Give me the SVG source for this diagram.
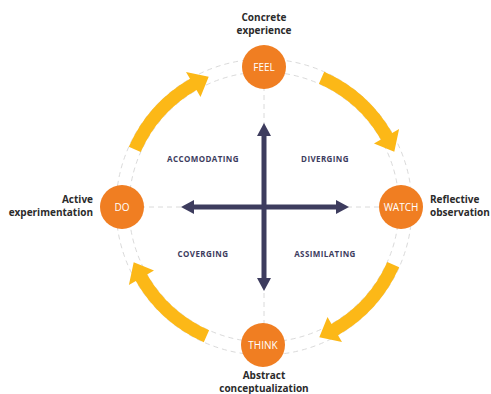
<svg xmlns="http://www.w3.org/2000/svg" width="491" height="394" viewBox="0 0 491 394">
<style>
.dash{fill:none;stroke:#dadada;stroke-width:1;stroke-dasharray:5 4}
.band{fill:#fcb817}
.node{fill:#f07e22}
.nt{font-family:"Open Sans","Noto Sans",sans-serif;font-size:10px;fill:#fff;text-anchor:middle}
.title{font-family:"Open Sans","Noto Sans",sans-serif;font-size:10px;font-weight:bold;fill:#2b2b2b}
.q{font-family:"Open Sans","Noto Sans",sans-serif;font-size:8px;font-weight:bold;fill:#3d3c5e;text-anchor:middle;letter-spacing:0.4px}
.ax{stroke:#3d3c5e;stroke-width:5;fill:none}
</style>
<defs>
<marker id="ah" markerUnits="userSpaceOnUse" markerWidth="13" markerHeight="14" refX="0" refY="7" orient="auto-start-reverse" viewBox="0 0 13 14">
<path d="M0,0 L13,7 L0,14 Z" fill="#3d3c5e"/>
</marker>
<path id="arc" d="M128.8,146.8 A148,148 0 0 1 190,78.8 L186,71.9 L208.7,76.7 L200.5,97 L196.5,90.1 A135,135 0 0 0 140.7,152.1 Z"/>
</defs>
<rect width="491" height="394" fill="#fff"/>
<g id="guides">
<circle class="dash" cx="264" cy="207" r="135"/>
<circle class="dash" cx="264" cy="207" r="148"/>
<line class="dash" x1="122" y1="207" x2="401" y2="207"/>
<line class="dash" x1="264" y1="68" x2="264" y2="345"/>
</g>
<g id="connectors">
<use href="#arc" class="band"/>
<use href="#arc" class="band" transform="rotate(90 264 207)"/>
<use href="#arc" class="band" transform="rotate(180 264 207)"/>
<use href="#arc" class="band" transform="rotate(270 264 207)"/>
<line class="ax" x1="264" y1="136" x2="264" y2="278" marker-start="url(#ah)" marker-end="url(#ah)"/>
<line class="ax" x1="194" y1="207" x2="336" y2="207" marker-start="url(#ah)" marker-end="url(#ah)"/>
</g>
<g id="feel">
<circle class="node" cx="264" cy="67" r="22"/>
<text class="nt" x="264" y="70.5">FEEL</text>
<text class="title" x="264" y="21" text-anchor="middle">Concrete</text>
<text class="title" x="264" y="34" text-anchor="middle">experience</text>
</g>
<g id="watch">
<circle class="node" cx="401" cy="207" r="22"/>
<text class="nt" x="401" y="210.5">WATCH</text>
<text class="title" x="430" y="203">Reflective</text>
<text class="title" x="430" y="216">observation</text>
</g>
<g id="think">
<circle class="node" cx="263" cy="345" r="22"/>
<text class="nt" x="263" y="348.5">THINK</text>
<text class="title" x="264" y="379" text-anchor="middle">Abstract</text>
<text class="title" x="264" y="392" text-anchor="middle">conceptualization</text>
</g>
<g id="do">
<circle class="node" cx="122" cy="207" r="22"/>
<text class="nt" x="122" y="210.5">DO</text>
<text class="title" x="93" y="203" text-anchor="end">Active</text>
<text class="title" x="93" y="216" text-anchor="end">experimentation</text>
</g>
<g id="quadrants">
<text class="q" x="203" y="162">ACCOMODATING</text>
<text class="q" x="325" y="162">DIVERGING</text>
<text class="q" x="203" y="257">COVERGING</text>
<text class="q" x="325" y="257">ASSIMILATING</text>
</g>
</svg>
